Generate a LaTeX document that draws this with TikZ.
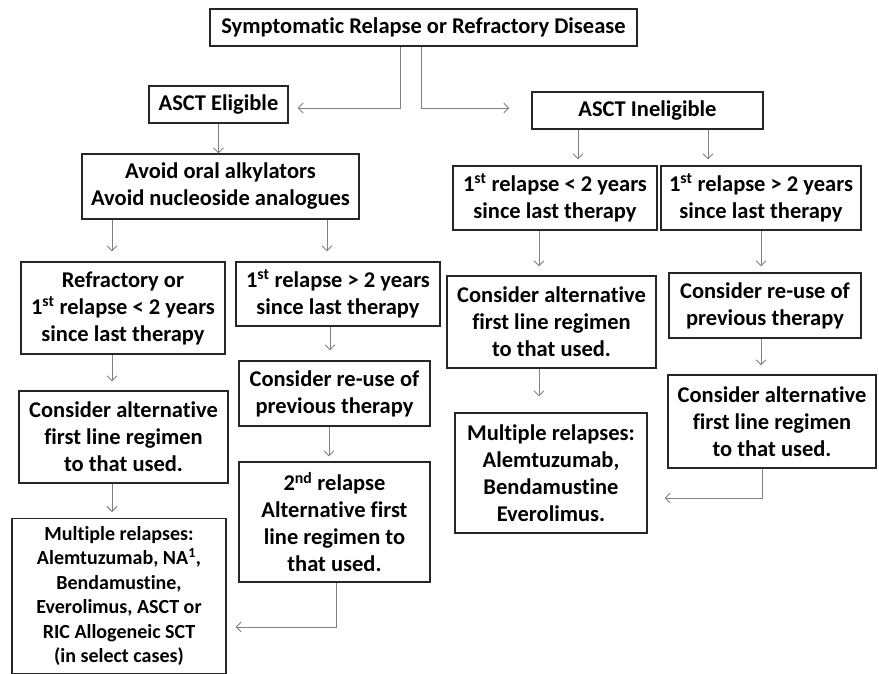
\documentclass[tikz,border=0pt]{standalone}
\usepackage{fontspec}
\setmainfont{Carlito}[Ligatures=NoCommon]
\usetikzlibrary{arrows.meta,positioning}

\begin{document}
\begin{tikzpicture}[
        x=1pt, y=-1pt,
        font=\bfseries\fontsize{22.5}{27}\selectfont,
        box/.style={draw=black!85, line width=1.1pt, align=center, inner sep=0pt},
        small/.style={font=\bfseries\fontsize{20}{24.4}\selectfont, inner ysep=8pt},
        arr/.style={draw=gray, line width=0.9pt, -{Straight Barb[length=5pt,width=10pt]}},
    ]
    \path[use as bounding box, clip] (0,0) rectangle (879,674);
    \node[box, minimum width=427, minimum height=37] (start) at (423.5,27.5) {Symptomatic Relapse or Refractory Disease};
    \node[box, minimum width=139, minimum height=37] (elig) at (218.5,104.5) {ASCT Eligible};
    \node[box, minimum width=231, minimum height=37] (inelig) at (647.5,110.5) {ASCT Ineligible};
    % eligible side
    \node[box, minimum width=277, minimum height=65] (avoid) at (220.5,186.5) {Avoid oral alkylators\\Avoid nucleoside analogues};
    \node[box, minimum width=204, minimum height=92] (refr) at (123,308) {Refractory or\\1\textsuperscript{st} relapse < 2 years\\since last therapy};
    \node[box, minimum width=204, minimum height=64] (late) at (338,294) {1\textsuperscript{st} relapse > 2 years\\since last therapy};
    \node[box, minimum width=209, minimum height=92] (altL) at (123.5,437) {Consider alternative\\first line regimen\\to that used.};
    \node[box, minimum width=191, minimum height=65] (reuseL) at (334.5,393.5) {Consider re-use of\\previous therapy};
    \node[box, small, minimum width=214, anchor=north] (multL) at (119,518) {Multiple relapses:\\Alemtuzumab, NA\textsuperscript{1},\\Bendamustine,\\Everolimus, ASCT or\\RIC Allogeneic SCT\\(in select cases)};
    \node[box, minimum width=191, minimum height=120] (second) at (334.5,522) {2\textsuperscript{nd} relapse\\Alternative first\\line regimen to\\that used.};
    % ineligible side
    \node[box, minimum width=204, minimum height=64] (earlyR) at (555,198) {1\textsuperscript{st} relapse < 2 years\\since last therapy};
    \node[box, minimum width=200, minimum height=64] (lateR) at (761,198) {1\textsuperscript{st} relapse > 2 years\\since last therapy};
    \node[box, minimum width=209, minimum height=92] (altR) at (551.5,322) {Consider alternative\\first line regimen\\to that used.};
    \node[box, minimum width=192, minimum height=65] (reuseR) at (765,305.5) {Consider re-use of\\previous therapy};
    \node[box, minimum width=192, minimum height=120] (multR) at (551,473) {Multiple relapses:\\Alemtuzumab,\\Bendamustine\\Everolimus.};
    \node[box, minimum width=208, minimum height=93] (altR2) at (772,421.5) {Consider alternative\\first line regimen\\to that used.};

    \draw[arr] ([xshift=-23.5pt]start.south) |- ([xshift=9pt,yshift=-3.5pt]elig.east);
    \draw[arr] ([xshift=-2.5pt]start.south) |- ([xshift=-22pt,yshift=2.5pt]inelig.west);
    \draw[arr] (elig.south) -- (elig.south |- avoid.north);
    \draw[arr, shorten >=10pt] ([xshift=-108.5pt]avoid.south) -- ([xshift=-11pt]refr.north);
    \draw[arr, shorten >=10pt] ([xshift=106.5pt]avoid.south) -- ([xshift=-11pt]late.north);
    \draw[arr, shorten >=9pt] ([xshift=-11pt]refr.south) -- ([xshift=-11.5pt]altL.north);
    \draw[arr, shorten >=6pt] ([xshift=-11.5pt]altL.south) -- ([xshift=-7pt]multL.north);
    \draw[arr, shorten >=10pt] ([xshift=-8pt]late.south) -- ([xshift=-4.5pt]reuseL.north);
    \draw[arr, shorten >=5pt] ([xshift=-5.5pt]reuseL.south) -- ([xshift=-5.5pt]second.north);
    \draw[arr, shorten >=9pt] ([xshift=1.5pt]second.south) |- (multL.east |- 0,627);
    \draw[arr, shorten >=6pt] ([xshift=-69.5pt]inelig.south) -- ([xshift=23pt]earlyR.north);
    \draw[arr, shorten >=6pt] ([xshift=60.5pt]inelig.south) -- ([xshift=-53pt]lateR.north);
    \draw[arr, shorten >=9pt] ([xshift=-16pt]earlyR.south) -- ([xshift=-12.5pt]altR.north);
    \draw[arr, shorten >=6pt] (lateR.south) -- ([xshift=-4pt]reuseR.north);
    \draw[arr, shorten >=16pt] ([xshift=-12.5pt]altR.south) -- ([xshift=-12pt]multR.north);
    \draw[arr, shorten >=9pt] ([xshift=-4pt]reuseR.south) -- ([xshift=-11pt]altR2.north);
    \draw[arr, shorten >=17pt] ([xshift=-10pt]altR2.south) |- (multR.east |- 0,498);
\end{tikzpicture}
\end{document}
